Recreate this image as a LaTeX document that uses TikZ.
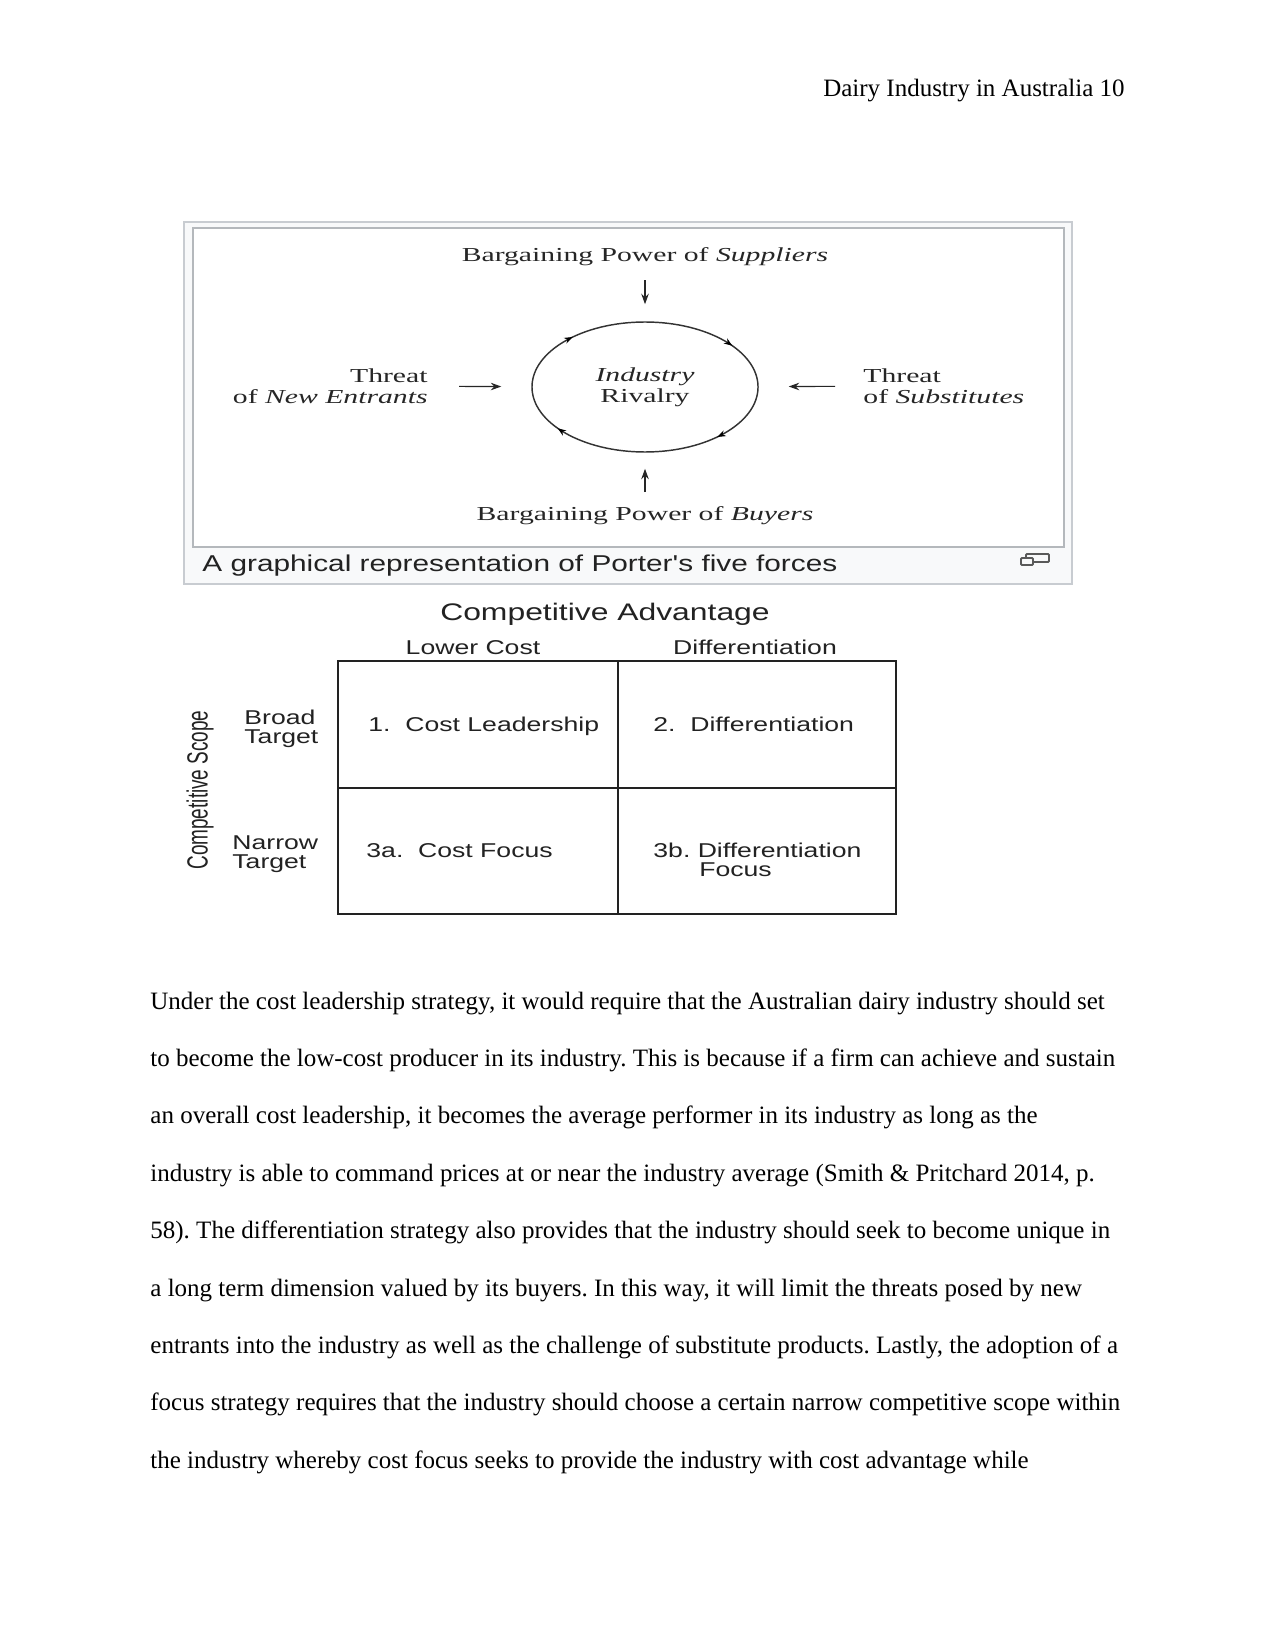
\documentclass[tikz,border=0pt]{standalone}
\usepackage{fontspec}
\setmainfont{Liberation Serif}
\newfontfamily\forcefont[FakeStretch=1.5]{Liberation Serif}
\newfontfamily\wikifont[FakeStretch=1.3]{Liberation Sans}
\newfontfamily\gridfont[FakeStretch=1.33]{Liberation Sans}
\newfontfamily\scopefont[FakeStretch=0.65]{Liberation Sans}
\usetikzlibrary{arrows.meta,positioning,shapes.geometric,decorations.markings}

\definecolor{thumbborder}{HTML}{C8CCD1}
\definecolor{thumbfill}{HTML}{F8F9FA}
\definecolor{inkgray}{HTML}{222222}

\frenchspacing

\begin{document}
\begin{tikzpicture}[
  x=0.48pt, y=-0.48pt,
  >=Stealth,
  bodyline/.style={anchor=base west, inner sep=0pt, font=\fontsize{12}{14}\selectfont},
  thumbframe/.style={draw=thumbborder, fill=thumbfill, line width=0.6pt},
  imageframe/.style={draw=thumbborder!90!black, fill=white, line width=1pt},
  forcetext/.style={inner sep=0pt, text=black!85, font=\forcefont\fontsize{9.5}{10}\selectfont},
  force/.style={-{Stealth[length=5pt, width=3.6pt]}, line width=0.55pt, black!85},
  rivalry/.style={ellipse, draw=black!80, line width=0.7pt, minimum width=108.5pt,
    minimum height=62.4pt, inner sep=0pt, align=center},
  ringmarks/.style={decoration={markings,
    mark=at position 0.119 with {\arrow{Stealth[length=4pt, width=3pt]}},
    mark=at position 0.411 with {\arrow{Stealth[length=4pt, width=3pt]}},
    mark=at position 0.619 with {\arrow{Stealth[length=4pt, width=3pt]}},
    mark=at position 0.911 with {\arrow{Stealth[length=4pt, width=3pt]}}},
    postaction={decorate}},
  wikicaption/.style={anchor=base west, inner sep=0pt, text=inkgray, font=\wikifont\fontsize{11}{13}\selectfont},
  gridtitle/.style={inner sep=0pt, text=inkgray, font=\gridfont\fontsize{11.5}{13}\selectfont},
  gridlabel/.style={inner sep=0pt, text=inkgray, font=\gridfont\fontsize{9.6}{9.1}\selectfont},
  scopelabel/.style={inner sep=0pt, text=inkgray, font=\scopefont\fontsize{14}{16}\selectfont},
  gridline/.style={draw=inkgray, line width=1pt}
]

% Page and running head.
\fill[white] (0,0) rectangle (1275,1650);
\useasboundingbox (0,0) rectangle (1275,1650);
\node[bodyline, anchor=base east] (header) at (1125,97) {Dairy Industry in Australia 10};

% Five forces thumbnail frame.
\filldraw[thumbframe] (184,222) rectangle (1072,584);
\filldraw[imageframe] (193,228) rectangle (1064,547);

% Forces around the rivalry ring.
\node[rivalry, forcetext] (rivalry) at (645,387) {\textit{Industry}\\Rivalry};
\path[ringmarks] (rivalry.center) ellipse [x radius=113, y radius=65];

\node[forcetext, anchor=base] (suppliers) at (645,262)
  {Bargaining Power of \textit{Suppliers}};
\node[forcetext, anchor=base] (buyers) at (645,520)
  {Bargaining Power of \textit{Buyers}};
\node[forcetext, align=right, anchor=east] (entrants) at (428,386)
  {Threat\\of \textit{New Entrants}};
\node[forcetext, align=left, anchor=west] (substitutes) at (863,386)
  {Threat\\of \textit{Substitutes}};

\draw[force, shorten <=6.5pt, shorten >=8.2pt] (suppliers) -- (rivalry);
\draw[force, shorten <=6.5pt, shorten >=7.7pt] (buyers) -- (rivalry);
\draw[force, shorten <=14.9pt, shorten >=14.4pt] (entrants) -- (rivalry);
\draw[force, shorten <=13.4pt, shorten >=14.4pt] (substitutes) -- (rivalry);

% Caption and enlarge icon.
\node[wikicaption] (caption) at (202,571)
  {A graphical representation of Porter's five forces};
\draw[draw=black!65, line width=0.9pt, rounded corners=0.5pt] (1026,554) rectangle (1049,562);
\filldraw[draw=black!65, fill=thumbfill, line width=0.9pt, rounded corners=0.5pt] (1021,558) rectangle (1033,565);

% Generic strategies matrix.
\node[gridtitle, anchor=base] (advantage) at (605,620) {Competitive Advantage};
\node[gridlabel, anchor=base] (lowercost) at (473,654) {Lower Cost};
\node[gridlabel, anchor=base] (diffhead) at (755,654) {Differentiation};

\node[scopelabel, rotate=90] (scope) at (200,790) {Competitive Scope};
\node[gridlabel, align=left, anchor=west] (broad) at (244,728.5) {Broad\\Target};
\node[gridlabel, align=left, anchor=west] (narrow) at (232,854) {Narrow\\Target};

\draw[gridline] (338,661) rectangle (896,914);
\draw[gridline] (618,661) -- (618,914);
\draw[gridline] (338,788) -- (896,788);

\node[gridlabel, anchor=base west] (costlead) at (368,731.5) {1.\ \ Cost Leadership};
\node[gridlabel, anchor=base west] (differ) at (653,731.5) {2.\ \ Differentiation};
\node[gridlabel, anchor=base west] (costfocus) at (366,857) {3a.\ \ Cost Focus};
\node[gridlabel, align=left, anchor=north west] (difffocus) at (653,842.5)
  {3b. Differentiation\\\hspace*{22pt}Focus};

% Body paragraph, one node per printed line.
\node[bodyline] (line1) at (150,1009) {Under the cost leadership strategy, it would require that the Australian dairy industry should set};
\node[bodyline] (line2) at (150,1066.4) {to become the low-cost producer in its industry. This is because if a firm can achieve and sustain};
\node[bodyline] (line3) at (150,1123.8) {an overall cost leadership, it becomes the average performer in its industry as long as the};
\node[bodyline] (line4) at (150,1181.2) {industry is able to command prices at or near the industry average (Smith \& Pritchard 2014, p.};
\node[bodyline] (line5) at (150,1238.6) {58). The differentiation strategy also provides that the industry should seek to become unique in};
\node[bodyline] (line6) at (150,1296) {a long term dimension valued by its buyers. In this way, it will limit the threats posed by new};
\node[bodyline] (line7) at (150,1353.4) {entrants into the industry as well as the challenge of substitute products. Lastly, the adoption of a};
\node[bodyline] (line8) at (150,1410.8) {focus strategy requires that the industry should choose a certain narrow competitive scope within};
\node[bodyline] (line9) at (150,1468.2) {the industry whereby cost focus seeks to provide the industry with cost advantage while};

\end{tikzpicture}
\end{document}
